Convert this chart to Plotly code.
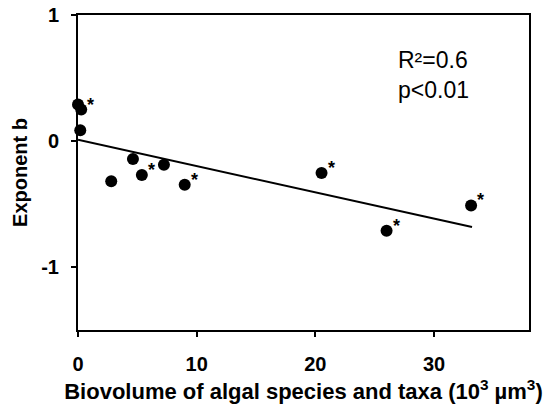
import plotly.graph_objects as go

# Data
biovolume = [0.0, 0.27, 0.19, 2.8, 4.63, 5.38, 7.24, 8.99, 20.52, 26.0, 33.12]
exponent_b = [0.29, 0.25, 0.085, -0.32, -0.143, -0.27, -0.188, -0.347, -0.254, -0.712, -0.511]
significance = ["", "*", "", "", "", "*", "", "*", "*", "*", "*"]

fit_x = [0.0, 33.2]
fit_y = [0.01, -0.683]

x_ticks = [0, 10, 20, 30]
y_ticks = [-1, 0, 1]

FONT = "Liberation Sans, Arial, sans-serif"

fig = go.Figure()

fig.add_trace(go.Scatter(
    x=fit_x, y=fit_y, mode="lines",
    line=dict(color="black", width=2),
    showlegend=False, hoverinfo="skip", cliponaxis=False,
))

fig.add_trace(go.Scatter(
    x=biovolume, y=exponent_b, mode="markers",
    marker=dict(color="black", size=12),
    showlegend=False, cliponaxis=False,
))

for xv, yv, s in zip(biovolume, exponent_b, significance):
    if s:
        fig.add_annotation(
            x=xv, y=yv, xref="x", yref="y", text=s, showarrow=False,
            xanchor="left", yanchor="middle", xshift=4, yshift=5,
            font=dict(family=FONT, size=18, color="black", weight="bold"),
        )

fig.add_annotation(
    x=26.8, y=0.525, xref="x", yref="y",
    text="R²=0.6<br>p&lt;0.01", showarrow=False,
    xanchor="left", yanchor="middle", align="left",
    font=dict(family=FONT, size=23, color="black"),
)

axis_common = dict(
    showline=True, linecolor="black", linewidth=2, mirror=True,
    ticks="outside", ticklen=5, tickwidth=2, tickcolor="black",
    showgrid=False, zeroline=False, automargin=False,
    tickfont=dict(family=FONT, size=20, color="black", weight="bold"),
)

fig.update_xaxes(
    range=[0, 38], tickvals=x_ticks, ticktext=[str(v) for v in x_ticks],
    ticklabelstandoff=10,
    title=dict(text="Biovolume of algal species and taxa (10<sup>3</sup> µm<sup>3</sup>)",
               font=dict(family=FONT, size=22, color="black", weight="bold"),
               standoff=10),
    **axis_common,
)
fig.update_yaxes(
    range=[-1.5, 1], tickvals=y_ticks, ticktext=[str(v) for v in y_ticks],
    ticklabelstandoff=8,
    title=dict(text="Exponent b",
               font=dict(family=FONT, size=20, color="black", weight="bold"),
               standoff=8),
    **axis_common,
)

fig.update_layout(
    width=553, height=414,
    margin=dict(l=78, r=24, t=15, b=84),
    plot_bgcolor="white", paper_bgcolor="white",
    font=dict(family=FONT, color="black"),
)

fig.write_html(
    "out.html",
    config={"displayModeBar": False},
    post_script="document.body.style.margin='0';document.body.style.overflow='hidden';",
)
